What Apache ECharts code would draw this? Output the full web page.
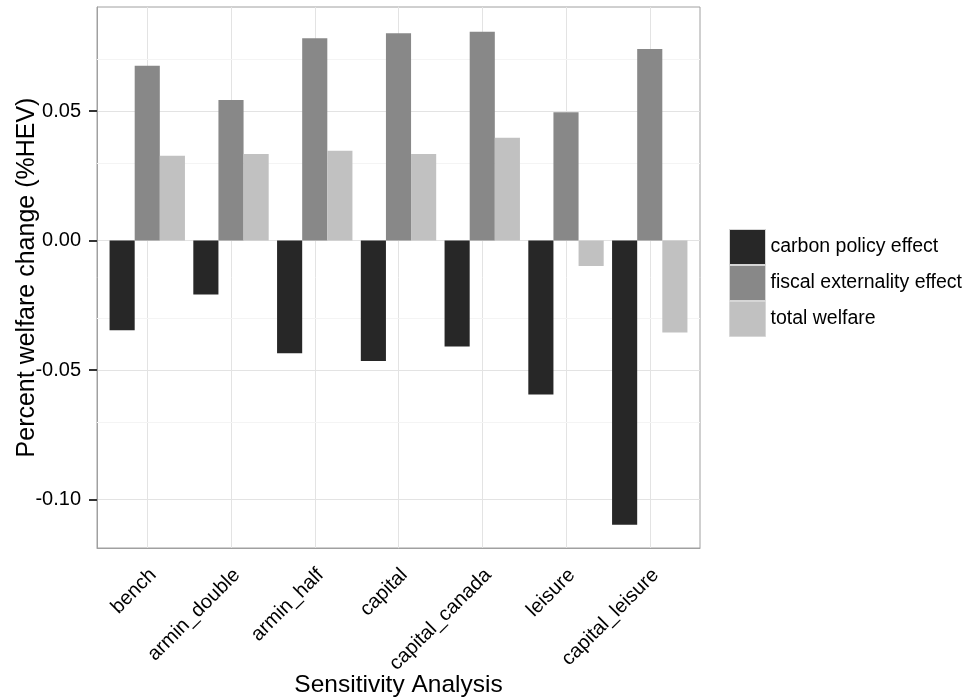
<!DOCTYPE html>
<html>
<head>
<meta charset="utf-8">
<script src="https://cdn.jsdelivr.net/npm/echarts@6/dist/echarts.min.js"></script>
<style>
html,body{margin:0;padding:0;background:#fff;}
#chart{width:966px;height:700px;}
</style>
</head>
<body>
<div id="chart"></div>
<script>
const categories = ['bench','armin_double','armin_half','capital','capital_canada','leisure','capital_leisure'];
const carbonPolicy = [-0.0346, -0.0208, -0.0435, -0.0465, -0.0409, -0.0594, -0.1097];
const fiscalExternality = [0.0675, 0.0543, 0.0781, 0.0801, 0.0806, 0.0496, 0.0740];
const totalWelfare = [0.0328, 0.0334, 0.0347, 0.0334, 0.0397, -0.0098, -0.0355];
const seriesNames = ['carbon policy effect','fiscal externality effect','total welfare'];
const seriesColors = ['#272727','#888888','#c1c1c1'];
const yTicks = [-0.10, -0.05, 0.00, 0.05];
const yMinorTicks = [-0.075, -0.025, 0.025, 0.075];
const yRange = [-0.1187, 0.0902];
const xRange = [-0.6, 6.6];

const FONT = "'Liberation Sans', Arial, Helvetica, sans-serif";
const catIdx = categories.map((c, i) => i);
const labelPos = catIdx.map(i => i + 0.07);
const toPairs = arr => arr.map((v, i) => [i, v]);

const chart = echarts.init(document.getElementById('chart'), null, {renderer: 'canvas'});
const barBase = {
  type: 'bar',
  barWidth: '30%',
  barGap: '0%',
  z: 3
};
chart.setOption({
  backgroundColor: '#ffffff',
  animation: false,
  textStyle: {fontFamily: FONT},
  grid: {
    left: 97, top: 7, width: 603, height: 541,
    containLabel: false,
    outerBoundsMode: 'none',
    show: true, borderColor: '#a0a0a0', borderWidth: 1, backgroundColor: '#ffffff'
  },
  legend: {
    orient: 'vertical',
    left: 729, top: 229, padding: 0,
    itemWidth: 36, itemHeight: 35, itemGap: 0,
    icon: 'rect',
    data: seriesNames,
    itemStyle: {borderColor: '#d6d6d6', borderWidth: 1},
    textStyle: {fontSize: 19.5, color: '#000', fontFamily: FONT}
  },
  xAxis: {
    type: 'value',
    position: 'bottom',
    min: xRange[0], max: xRange[1],
    axisLine: {show: true, onZero: false, lineStyle: {color: '#a0a0a0', width: 1}},
    axisTick: {show: false, customValues: catIdx},
    axisLabel: {
      customValues: labelPos,
      formatter: v => categories[Math.round(v)],
      rotate: 45, fontSize: 20, color: '#000', margin: 24, fontFamily: FONT
    },
    splitLine: {show: true, lineStyle: {color: '#e3e3e3', width: 1}},
    name: 'Sensitivity Analysis',
    nameLocation: 'middle',
    nameGap: 125,
    nameMoveOverlap: false,
    nameTextStyle: {fontSize: 24.5, color: '#000', fontFamily: FONT}
  },
  yAxis: {
    type: 'value',
    position: 'left',
    min: yRange[0], max: yRange[1],
    axisLine: {show: true, onZero: false, lineStyle: {color: '#a0a0a0', width: 1}},
    axisTick: {show: true, inside: false, customValues: yTicks, length: 8, lineStyle: {color: '#333333', width: 2}},
    axisLabel: {
      customValues: yTicks,
      formatter: v => v.toFixed(2),
      fontSize: 20, color: '#000', margin: 16, fontFamily: FONT
    },
    splitLine: {show: true, lineStyle: {color: '#e3e3e3', width: 1}},
    name: 'Percent welfare change (%HEV)',
    nameLocation: 'middle',
    nameRotate: 90,
    nameGap: 57,
    nameMoveOverlap: false,
    nameTextStyle: {fontSize: 25, color: '#000', fontFamily: FONT}
  },
  series: [
    {
      type: 'line', data: [], silent: true, z: 1,
      markLine: {
        silent: true, symbol: 'none', z: 1,
        label: {show: false},
        lineStyle: {color: '#f4f4f4', type: 'solid', width: 1},
        data: yMinorTicks.map(v => ({yAxis: v}))
      }
    },
    Object.assign({}, barBase, {name: seriesNames[0], data: toPairs(carbonPolicy), itemStyle: {color: seriesColors[0]}}),
    Object.assign({}, barBase, {name: seriesNames[1], data: toPairs(fiscalExternality), itemStyle: {color: seriesColors[1]}}),
    Object.assign({}, barBase, {name: seriesNames[2], data: toPairs(totalWelfare), itemStyle: {color: seriesColors[2]}})
  ]
});
</script>
</body>
</html>
